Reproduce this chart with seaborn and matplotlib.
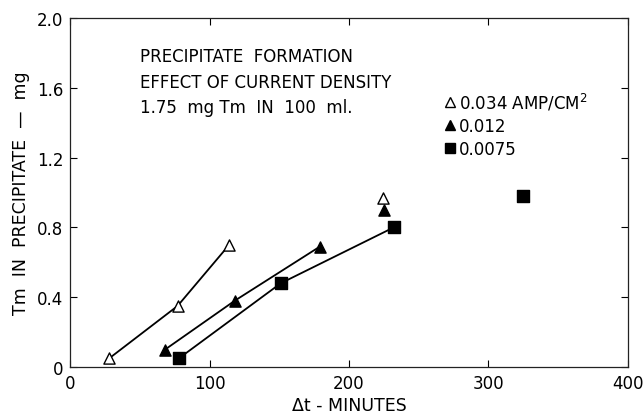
import matplotlib
matplotlib.use("Agg")
import matplotlib.pyplot as plt
import seaborn as sns
import pandas as pd
from matplotlib.lines import Line2D

# ---- data ----
series_labels = ["0.034 AMP/CM$^{2}$", "0.012", "0.0075"]
t_034 = [28, 77, 114, 224]
m_034 = [0.05, 0.35, 0.70, 0.97]
t_012 = [68, 118, 179, 225]
m_012 = [0.10, 0.38, 0.69, 0.90]
t_0075 = [78, 151, 232, 325]
m_0075 = [0.05, 0.48, 0.80, 0.98]
n_connected = 3  # first three points of each series joined by a line

x_ticks = [0, 100, 200, 300, 400]
y_ticks = [0, 0.4, 0.8, 1.2, 1.6, 2.0]
y_tick_labels = ["0", "0.4", "0.8", "1.2", "1.6", "2.0"]
annotation = ["PRECIPITATE  FORMATION", "EFFECT OF CURRENT DENSITY", "1.75  mg Tm  IN  100  ml."]

sns.set_style("ticks")
plt.rcParams['font.family'] = ['DejaVu Sans']
plt.rcParams['text.color'] = 'black'
plt.rcParams['axes.labelcolor'] = 'black'
plt.rcParams['xtick.color'] = 'black'
plt.rcParams['ytick.color'] = 'black'

fig = plt.figure(figsize=(6.44, 4.14), dpi=100)
ax = fig.add_axes([0.109, 0.111, 0.866, 0.843])

styles = [
    dict(marker="^", facecolor="white"),
    dict(marker="^", facecolor="black"),
    dict(marker="s", facecolor="black"),
]
all_t = [t_034, t_012, t_0075]
all_m = [m_034, m_012, m_0075]

handles = []
for lab, t, m, st in zip(series_labels, all_t, all_m, styles):
    df = pd.DataFrame({"t": t, "m": m})
    sns.lineplot(data=df.iloc[:n_connected], x="t", y="m", color="black",
                 linewidth=1.3, ax=ax, sort=False)
    sns.scatterplot(data=df, x="t", y="m", marker=st["marker"], s=65,
                    facecolor=st["facecolor"], edgecolor="black", linewidth=1.0,
                    ax=ax, zorder=5)
    handles.append(Line2D([], [], linestyle="none", marker=st["marker"],
                          markersize=7, markerfacecolor=st["facecolor"],
                          markeredgecolor="black", label=lab))

ax.set_xlim(0, 400)
ax.set_ylim(0, 2.0)
ax.set_xticks(x_ticks)
ax.set_xticklabels([str(v) for v in x_ticks], fontsize=12)
ax.set_yticks(y_ticks)
ax.set_yticklabels(y_tick_labels, fontsize=12)
ax.tick_params(direction="in", top=True, right=True, length=5, width=0.8, pad=5)
for sp in ax.spines.values():
    sp.set_visible(True)
    sp.set_linewidth(0.9)
    sp.set_color("#222222")

ax.set_xlabel("Δt - MINUTES", fontsize=12.5, labelpad=3)
ax.set_ylabel("Tm  IN  PRECIPITATE  —  mg", fontsize=12.5, labelpad=5)

for i, line in enumerate(annotation):
    ax.text(50, 1.78 - 0.145 * i, line, fontsize=12, va="center", ha="left")

leg = ax.legend(handles=handles, loc="upper left", bbox_to_anchor=(0.655, 0.815),
                frameon=False, fontsize=12, handletextpad=0.1, handlelength=0.8,
                labelspacing=0.3, borderpad=0)

fig.savefig("out.png", dpi=100)
